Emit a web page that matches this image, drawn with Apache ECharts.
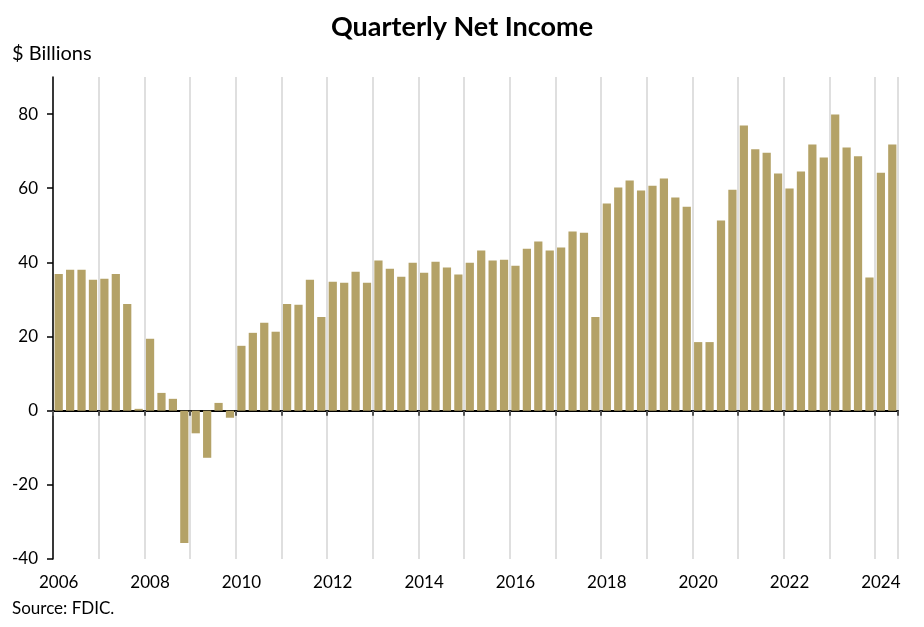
<!DOCTYPE html>
<html>
<head>
<meta charset="utf-8">
<script src="https://cdn.jsdelivr.net/npm/echarts@6/dist/echarts.min.js"></script>
<style>
  html, body { margin: 0; padding: 0; background: #fff; }
  #chart { width: 924px; height: 627px; }
</style>
</head>
<body>
<div id="chart"></div>
<script>
// years shown on the category axis (quarters per year)
var years = [2006, 2007, 2008, 2009, 2010, 2011, 2012, 2013, 2014, 2015,
             2016, 2017, 2018, 2019, 2020, 2021, 2022, 2023, 2024];
var quarterNames = ["Q1", "Q2", "Q3", "Q4"];
var lastYearQuarters = 2; // 2024 stops at Q2

// quarterly net income, $ billions
var netIncome = [
    36.9, 38.0, 38.0, 35.3,     // 2006
    35.6, 36.9, 28.8, 0.5,      // 2007
    19.4, 4.8, 3.2, -35.7,      // 2008
    -6.1, -12.7, 2.1, -1.9,     // 2009
    17.5, 21.0, 23.7, 21.3,     // 2010
    28.8, 28.6, 35.3, 25.3,     // 2011
    34.8, 34.5, 37.5, 34.5,     // 2012
    40.5, 38.3, 36.1, 39.9,     // 2013
    37.2, 40.2, 38.6, 36.7,     // 2014
    39.9, 43.2, 40.5, 40.7,     // 2015
    39.1, 43.7, 45.6, 43.2,     // 2016
    44.0, 48.3, 48.0, 25.3,     // 2017
    55.9, 60.2, 62.1, 59.4,     // 2018
    60.7, 62.6, 57.5, 55.0,     // 2019
    18.5, 18.5, 51.3, 59.6,     // 2020
    76.9, 70.5, 69.6, 64.0,     // 2021
    59.9, 64.5, 71.8, 68.3,     // 2022
    79.9, 71.0, 68.6, 35.9,     // 2023
    64.2, 71.8                  // 2024
];

var yTicks = [-40, -20, 0, 20, 40, 60, 80];

function $each(arr, fn) {
    for (var i = 0; i < arr.length; i++) fn(arr[i], i);
}

var categories = [];
$each(years, function (y, i) {
    var n = (i === years.length - 1) ? lastYearQuarters : 4;
    for (var q = 0; q < n; q++) {
        categories.push(y + " " + quarterNames[q]);
    }
});

var fontFamily = "Lato, 'Noto Sans', sans-serif";

// year boundaries only (Q1 of each year), not the right edge
function yearStart(index) {
    return index % 4 === 0 && index < categories.length;
}

var chart = echarts.init(document.getElementById("chart"));

var option = {
    animation: false,
    backgroundColor: "#ffffff",
    title: {
        text: "Quarterly Net Income",
        left: "center",
        top: 9,
        textStyle: {
            fontFamily: fontFamily,
            fontSize: 27,
            fontWeight: "bold",
            color: "#000000"
        }
    },
    graphic: [
        {
            type: "text",
            left: 12,
            top: 44,
            style: {
                text: "$ Billions",
                font: "20px " + fontFamily,
                fill: "#000000"
            }
        },
        {
            type: "text",
            left: 12,
            top: 600,
            style: {
                text: "Source: FDIC.",
                font: "17px " + fontFamily,
                fill: "#000000"
            }
        }
    ],
    grid: {
        left: 53,
        right: 26,
        top: 77,
        bottom: 68,
        containLabel: false
    },
    xAxis: [
        {
            // zero line with year ticks and year gridlines
            type: "category",
            position: "bottom",
            data: categories,
            boundaryGap: true,
            axisLine: {
                show: true,
                onZero: true,
                lineStyle: { color: "#000000", width: 2 }
            },
            axisTick: {
                show: true,
                length: 5,
                interval: yearStart,
                lineStyle: { color: "#555555", width: 2 }
            },
            axisLabel: { show: false },
            splitLine: {
                show: true,
                interval: yearStart,
                lineStyle: { color: "#d4d4d4", width: 1.5 }
            }
        },
        {
            // year labels along the bottom
            type: "category",
            position: "bottom",
            data: categories,
            boundaryGap: true,
            axisLine: { show: false, onZero: false },
            axisTick: { show: false },
            splitLine: { show: false },
            axisLabel: {
                show: true,
                interval: function (index) { return index % 8 === 0; },
                formatter: function (val) { return val.split(" ")[0]; },
                margin: 15,
                fontFamily: fontFamily,
                fontSize: 17,
                color: "#000000"
            }
        }
    ],
    yAxis: {
        type: "value",
        min: -40,
        max: 90,
        interval: 20,
        axisLine: {
            show: true,
            lineStyle: { color: "#000000", width: 1.5 }
        },
        axisTick: {
            show: true,
            length: 6,
            customValues: yTicks,
            lineStyle: { color: "#000000", width: 1.5 }
        },
        axisLabel: {
            customValues: yTicks,
            margin: 15,
            fontFamily: fontFamily,
            fontSize: 17,
            color: "#000000"
        },
        splitLine: { show: false }
    },
    series: [
        {
            name: "Net Income",
            type: "bar",
            xAxisIndex: 0,
            data: netIncome,
            barWidth: "72%",
            itemStyle: { color: "#b4a267" }
        }
    ]
};

chart.setOption(option);
</script>
</body>
</html>
